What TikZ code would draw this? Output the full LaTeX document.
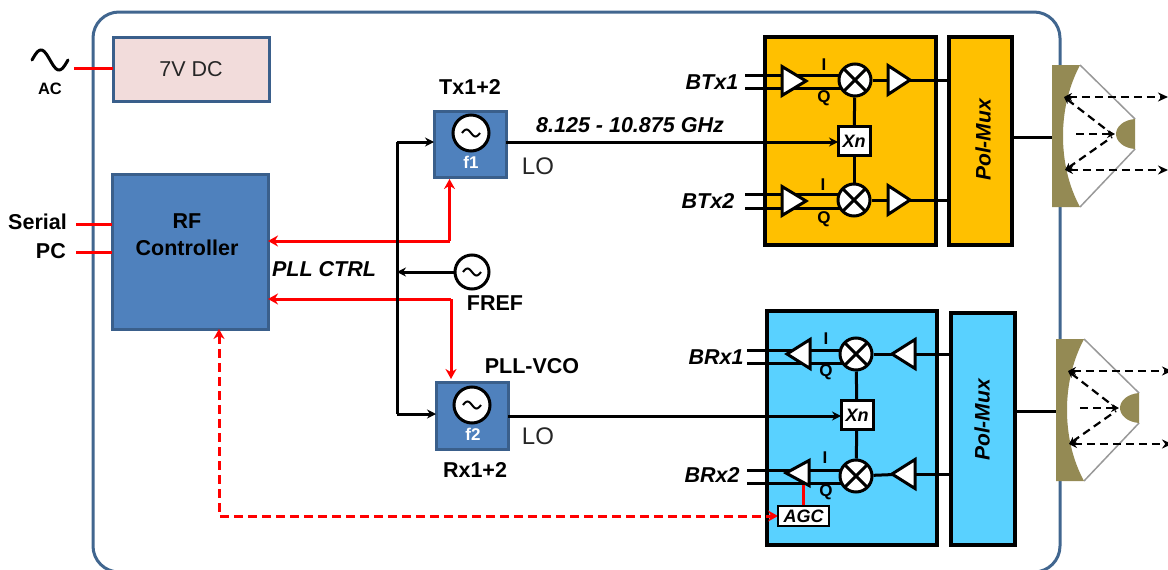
\documentclass[tikz,border=0pt]{standalone}
\usepackage{fontspec}
\setmainfont{Liberation Sans}
\usetikzlibrary{shapes.geometric,arrows.meta,calc}
\pgfdeclarelayer{back}\pgfdeclarelayer{wire}
\pgfsetlayers{back,wire,main}
\definecolor{frameblue}{HTML}{41668F}
\definecolor{ctrlblue}{HTML}{4F81BD}
\definecolor{ctrledge}{HTML}{3A5F8B}
\definecolor{pinkfill}{HTML}{F2DCDB}
\definecolor{gold}{HTML}{FFC000}
\definecolor{sky}{HTML}{59D1FF}
\definecolor{dish}{HTML}{948A54}
\definecolor{redline}{HTML}{FF0000}
\newcommand{\fs}[1]{\fontsize{#1}{#1}\selectfont}
\tikzset{
  x=1pt,y=-1pt,
  boxnode/.style={rectangle,inner sep=0pt,outer sep=0pt,anchor=north west},
  blockgold/.style={boxnode,draw=black,line width=3.2pt,fill=gold},
  blocksky/.style={boxnode,draw=black,line width=3.2pt,fill=sky},
  blockblue/.style={boxnode,draw=ctrledge,line width=3pt,fill=ctrlblue},
  blockpink/.style={boxnode,draw=ctrledge,line width=3pt,fill=pinkfill},
  wirek/.style={line width=3pt,draw=black},
  wirer/.style={line width=3pt,draw=redline},
  arrk/.style={-{Stealth[length=9pt,width=9pt]}},
  arrr/.style={-{Stealth[length=10pt,width=11pt]}},
  mixer/.style={circle,draw=black,line width=3pt,fill=white,minimum size=32pt,inner sep=0pt,
    path picture={\draw[line width=3pt] (path picture bounding box.north west)--(path picture bounding box.south east)
      (path picture bounding box.north east)--(path picture bounding box.south west);}},
  osc/.style={circle,draw=black,line width=3pt,fill=white,minimum size=#1,inner sep=0pt,
    path picture={\draw[line width=2pt,shift={(path picture bounding box.center)}]
      plot[domain=-1:1,samples=25,smooth] ({9*\x},{3.5*sin(180*\x)});}},
  osc/.default=36pt,
  ampr/.style={isosceles triangle,isosceles triangle stretches,shape border rotate=0,draw=black,line width=3pt,fill=white,
    inner sep=0pt,outer sep=0pt,minimum width=29pt,minimum height=24pt,anchor=apex},
  ampl/.style={isosceles triangle,isosceles triangle stretches,shape border rotate=180,draw=black,line width=3pt,fill=white,
    inner sep=0pt,outer sep=0pt,minimum width=29pt,minimum height=23pt,anchor=apex},
  xn/.style={boxnode,draw=black,line width=3pt,fill=white,font=\fs{18}\bfseries\itshape,minimum width=32pt,minimum height=29pt,anchor=center},
  lab/.style={font=\fs{21.5}\bfseries,text=black,inner sep=0pt},
  labi/.style={font=\fs{21.5}\bfseries\itshape,text=black,inner sep=0pt},
  iqlab/.style={font=\fs{17}\bfseries,text=black,inner sep=0pt},
  dashk/.style={line width=2.2pt,draw=black,dash pattern=on 8pt off 5pt},
  tipk/.style={{Stealth[length=8pt,width=8pt]}-{Stealth[length=10pt,width=9pt]}},
  endk/.style={-{Stealth[length=8pt,width=8pt]}},
  startk/.style={{Stealth[length=7pt,width=7pt]}-},
}
\begin{document}
\begin{tikzpicture}
\useasboundingbox (0,0) rectangle (1168,570);
\begin{pgfonlayer}{back}
  \node[boxnode,draw=frameblue,line width=3pt,rounded corners=26pt,minimum width=967pt,minimum height=560pt,fill=white] (frame) at (93,12) {};
  \node[blockpink,minimum width=156pt,minimum height=64pt] (dc) at (113,37) {};
  \node[blockblue,minimum width=156pt,minimum height=155pt] (ctrl) at (112,174) {};
  \node[blockblue,minimum width=72pt,minimum height=66pt] (tx) at (434,111) {};
  \node[blockblue,minimum width=72pt,minimum height=67pt] (rx) at (436,382) {};
  \node[blockgold,minimum width=171pt,minimum height=208pt] (txblock) at (765,37) {};
  \node[blockgold,minimum width=63pt,minimum height=208pt] (txmux) at (949,37) {};
  \node[blocksky,minimum width=170pt,minimum height=234pt] (rxblock) at (767,311) {};
  \node[blocksky,minimum width=64pt,minimum height=232pt] (rxmux) at (951,313) {};
\end{pgfonlayer}

% text on blocks
\node[font=\fs{21.5},text=black!85,inner sep=0pt] (dctext) at (191,69) {7V DC};
\node[lab] (rftext) at (187,221) {RF};
\node[lab] (ctext) at (187,248) {Controller};
\node[osc] (txosc) at (471,133) {};
\node[osc] (rxosc) at (472,405) {};
\node[font=\fs{17}\bfseries,text=white,inner sep=0pt] (f1) at (471,162) {f1};
\node[font=\fs{17}\bfseries,text=white,inner sep=0pt] (f2) at (473,434) {f2};
\node[osc=34pt] (fref) at (472,272) {};

% left side
\coordinate (acend) at (74,68);
\coordinate (serialend) at (76,224);
\coordinate (pcend) at (76,252);
\draw[line width=3pt,line cap=round,draw=black] plot[domain=-1:1,samples=30,smooth] ({50+18*\x},{60+10*sin(180*\x)});
\node[font=\fs{16.5}\bfseries,inner sep=0pt] (ac) at (50,89) {AC};
\node[lab,anchor=east] (serial) at (67,222) {Serial};
\node[lab,anchor=east] (pc) at (66,251) {PC};
\node[labi] (pll) at (324,269) {PLL CTRL};
\node[lab] (txlab) at (470,87) {Tx1+2};
\node[lab] (vco) at (532,366) {PLL-VCO};
\node[lab] (rxlab) at (475,470) {Rx1+2};
\node[lab] (freft) at (495,303) {FREF};
\node[font=\fs{24},text=black!85,inner sep=0pt] (lo1) at (538,166) {LO};
\node[font=\fs{24},text=black!85,inner sep=0pt] (lo2) at (538,436) {LO};
\node[labi] (ghz) at (630,125) {8.125 - 10.875 GHz};

% Tx chain
\node[xn] (txx) at (854,141) {Xn};
\node[mixer] (txm1) at (855,80) {};
\node[mixer] (txm2) at (854,200) {};
\node[ampr] (txa1) at (806,81) {};
\node[ampr] (txa2) at (806,201) {};
\node[ampr,minimum height=22pt] (txo1) at (910,80) {};
\node[ampr,minimum height=22pt] (txo2) at (910,200) {};
\node[labi] (btx1) at (712,82) {BTx1};
\node[labi] (btx2) at (708,201) {BTx2};
\node[iqlab] (i1) at (824,65) {I};
\node[iqlab] (q1) at (824,98) {Q};
\node[iqlab] (i2) at (823,185) {I};
\node[iqlab] (q2) at (824,219) {Q};
\node[font=\fs{21}\bfseries\itshape,rotate=90,inner sep=0pt] (txmt) at (983,140) {Pol-Mux};

% Rx chain
\node[xn] (rxx) at (857,415) {Xn};
\node[mixer] (rxm1) at (856,354) {};
\node[mixer] (rxm2) at (856,476) {};
\node[ampl] (rxa1) at (787,354) {};
\node[ampl,minimum width=25pt] (rxa2) at (786,473) {};
\node[ampl] (rxo1) at (892,354) {};
\node[ampl] (rxo2) at (892,474) {};
\node[labi] (brx1) at (716,357) {BRx1};
\node[labi] (brx2) at (712,475) {BRx2};
\node[iqlab] (i3) at (826,339) {I};
\node[iqlab] (q3) at (826,372) {Q};
\node[iqlab] (i4) at (825,458) {I};
\node[iqlab] (q4) at (826,492) {Q};
\node[font=\fs{21}\bfseries\itshape,rotate=90,inner sep=0pt] (rxmt) at (982,420) {Pol-Mux};
\node[boxnode,anchor=center,draw=black,line width=2pt,fill=white,minimum width=51pt,minimum height=20pt,font=\fs{18}\bfseries\itshape] (agc) at (803.5,516) {AGC};

% wires
\coordinate (bustop) at (397,142);
\coordinate (busbot) at (397,414);
\coordinate (busfref) at (397,272);
\coordinate (r1) at (449.5,241);
\coordinate (r2) at (451,299);
\coordinate (agccorner) at (219,516);
\coordinate (rxlo) at (508,416);
\coordinate (agctop) at (803.5,485);
\begin{pgfonlayer}{wire}
  \draw[wirer] (acend) -- (acend -| dc.west);
  \draw[wirer] (serialend) -- (serialend -| ctrl.west);
  \draw[wirer] (pcend) -- (pcend -| ctrl.west);
  \draw[wirer,arrr,shorten >=2pt] (r1) -- (r1 |- tx.south);
  \draw[wirer,arrr] (r1) -- (r1 -| ctrl.east);
  \draw[wirer,arrr,shorten >=3pt] (r2) -- (r2 |- rx.north);
  \draw[wirer,arrr] (r2) -- (r2 -| ctrl.east);
  \draw[wirer,dash pattern=on 9pt off 5pt,{Stealth[length=10pt,width=11pt]}-{Stealth[length=10pt,width=11pt]}]
     (agccorner |- ctrl.south) -- (agccorner) -- (agc.west);
  \draw[wirer] (agc.north) -- (agctop);
  \draw[wirek] (bustop) -- (busbot);
  \draw[wirek,arrk] (bustop) -- (tx.west |- bustop);
  \draw[wirek,arrk] (busbot) -- (rx.west |- busbot);
  \draw[wirek,arrk] (fref.west) -- (busfref);
  \draw[wirek,arrk] (tx.east |- bustop) -- (txx.west |- bustop);
  \draw[wirek,arrk] (rxlo) -- (rxlo -| rxx.west);
  % Tx I/Q
  \coordinate (tqa) at (745,75); \coordinate (tqb) at (745,88);
  \coordinate (tqc) at (745,194); \coordinate (tqd) at (745,208);
  \draw[wirek] (tqa) -- (tqa -| txm1.center);
  \draw[wirek] (tqb) -- (tqb -| txm1.center);
  \draw[wirek] (tqc) -- (tqc -| txm2.center);
  \draw[wirek] (tqd) -- (tqd -| txm2.center);
  \draw[wirek] (txm1) -- (txo1);
  \draw[wirek] (txm2) -- (txo2);
  \draw[wirek] (txo1.apex) -- (txo1.apex -| txmux.west);
  \draw[wirek] (txo2.apex) -- (txo2.apex -| txmux.west);
  \draw[wirek] (txm1) -- (txx);
  \draw[wirek] (txm2) -- (txx);
  % Rx I/Q
  \coordinate (rqa) at (747,350); \coordinate (rqb) at (747,363);
  \coordinate (rqc) at (747,470); \coordinate (rqd) at (747,483);
  \draw[wirek] (rqa) -- (rqa -| rxm1.center);
  \draw[wirek] (rqb) -- (rqb -| rxm1.center);
  \draw[wirek] (rqc) -- (rqc -| rxm2.center);
  \draw[wirek] (rqd) -- (rqd -| rxm2.center);
  \draw[wirek] (rxm1) -- (rxo1);
  \draw[wirek] (rxm2) -- (rxo2);
  \draw[wirek] (rxo1.center) -- (rxo1.center -| rxmux.west);
  \draw[wirek] (rxo2.center) -- (rxo2.center -| rxmux.west);
  \draw[wirek] (rxm1) -- (rxx);
  \draw[wirek] (rxm2) -- (rxx);
\end{pgfonlayer}

% antennas
\newcommand{\antenna}[3]{%
  \begin{scope}[shift={(#1,#2)}]
    \coordinate (#3feed) at (1052,137);
    \fill[white] (1080,65) -- (1135,119) -- (1135,149) -- (1080,207) .. controls (1068,185) and (1063,160) .. (1063,136) .. controls (1063,112) and (1068,88) .. (1080,65) -- cycle;
    \draw[line width=1.5pt,draw=black!40] (1080,65) -- (1135,119);
    \draw[line width=1.5pt,draw=black!40] (1135,149) -- (1080,207);
    \fill[dish] (1052,65) -- (1080,65) .. controls (1068,88) and (1063,112) .. (1063,136) .. controls (1063,160) and (1068,185) .. (1080,207) -- (1052,207) -- cycle;
    \fill[dish] (1135,119) .. controls (1123,120) and (1116,127) .. (1116,134) .. controls (1116,141) and (1123,148) .. (1135,149) -- cycle;
    \draw[dashk,tipk] (1064,97) -- (1168,97);
    \draw[dashk,startk] (1064,97) -- (1112,134);
    \draw[dashk,startk] (1065,170) -- (1112,137);
    \draw[dashk,endk] (1076,134) -- (1115,134);
    \draw[dashk,tipk] (1065,170) -- (1168,170);
  \end{scope}}
\antenna{0}{0}{ant1}
\antenna{4}{274}{ant2}
\begin{pgfonlayer}{wire}
  \draw[wirek] (txmux.east |- ant1feed) -- (ant1feed);
  \draw[wirek] (rxmux.east |- ant2feed) -- (ant2feed);
\end{pgfonlayer}
\end{tikzpicture}
\end{document}
